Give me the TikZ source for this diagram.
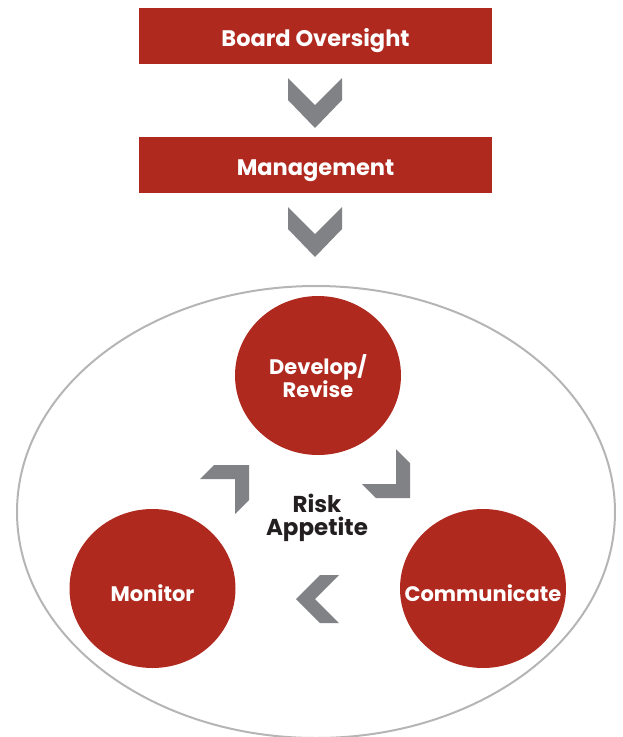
\documentclass[tikz,border=0pt]{standalone}
\usepackage{fontspec}
\setmainfont{Poppins}
\usepackage{xcolor}
\usepackage{tikz}
\usetikzlibrary{positioning,calc,shapes.geometric}

\definecolor{riskred}{HTML}{B0291F}
\definecolor{chevgray}{HTML}{808285}
\definecolor{rimgray}{HTML}{B5B5B8}
\definecolor{textblack}{HTML}{231F20}

\begin{document}
\begin{tikzpicture}[
					x=1pt, y=-1pt,
					% Hộp cấp trên
					levelbox/.style={fill=riskred, text=white, minimum width=353pt, minimum height=56pt,
						inner sep=0pt, text height=21pt, text depth=0pt, font=\bfseries\fontsize{22.5}{27}\selectfont},
					% Vòng tròn giai đoạn (chỉ hình)
					stagecircle/.style={ellipse, fill=riskred, minimum width=166pt, minimum height=159pt, inner sep=0pt},
					% Chữ trong vòng tròn
					stagetext/.style={text=white, align=center, inner sep=0pt, text depth=0pt,
						font=\bfseries\fontsize{21}{23}\selectfont},
					chevron/.style={fill=chevgray}
					]
					\useasboundingbox (0,0) rectangle (623,737);
					
					% --- HAI HỘP TRÊN ---
					\node[levelbox] (board) at (315.5,36) {Board Oversight};
					\node[levelbox] (mgmt) at (315.5,165) {Management};
					
					% --- MŨI TÊN XUỐNG ---
					\fill[chevron] (288,78) -- (315,105) -- (342,78) -- (342,100) -- (315,128) -- (288,100) -- cycle;
					\fill[chevron] (288,207) -- (315,234) -- (342,207) -- (342,229) -- (315,257) -- (288,229) -- cycle;
					
					% --- ELIP BAO NGOÀI ---
					\node[ellipse, draw=rimgray, line width=2pt, minimum width=598pt, minimum height=452pt, inner sep=0pt] (rim) at (316,512) {};
					
					% --- BA GIAI ĐOẠN ---
					\node[stagecircle] (develop) at (318,375.5) {};
					\node[stagecircle] (monitor) at (152.5,588.5) {};
					\node[stagecircle] (communicate) at (483,588.5) {};
					\node[stagetext, text height=44pt] (developtext) at (develop) {Develop/\\Revise};
					\node[stagetext, text height=21pt] (monitortext) at (152.5,591) {Monitor};
					\node[stagetext, text height=21pt] (communicatetext) at (483,591) {Communicate};
					
					% --- CHỮ GIỮA ---
					\node[text=textblack, align=center, inner sep=0pt, text depth=0pt, text height=39pt,
						font=\bfseries\fontsize{23}{23}\selectfont] (risk) at (317,515.5) {Risk\\Appetite};
					
					% --- MŨI TÊN VÒNG ---
					% Monitor -> Develop
					\fill[chevron] (200,479) -- (214,465) -- (249,465) -- (249,500) -- (235,514) -- (235,479) -- cycle;
					% Develop -> Communicate
					\fill[chevron] (362,484) -- (396,484) -- (396,449) -- (410,463) -- (410,498) -- (376,498) -- cycle;
					% Communicate -> Monitor
					\fill[chevron] (296,599) -- (320,575) -- (339,575) -- (315,599) -- (339,623) -- (320,623) -- cycle;
					
				\end{tikzpicture}
\end{document}
